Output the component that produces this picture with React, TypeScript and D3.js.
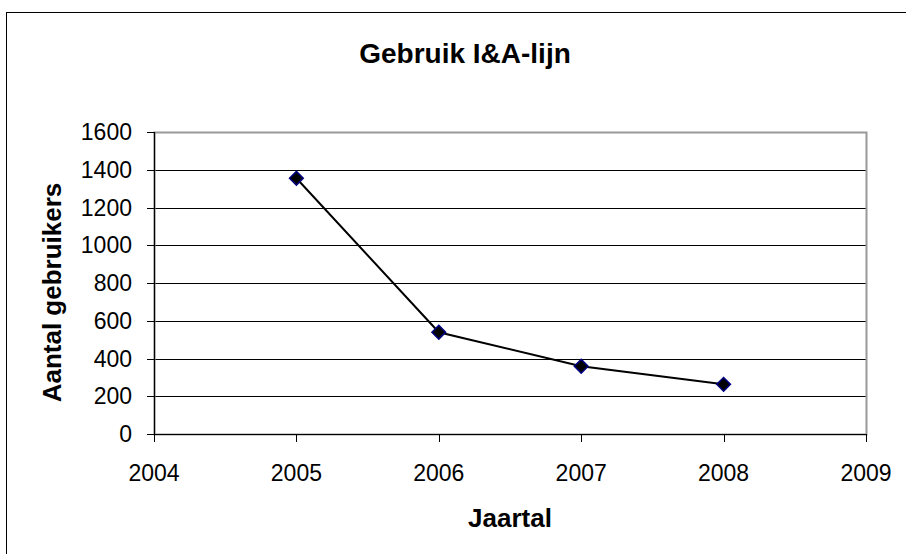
import React from "react";
import * as d3 from "d3";

const years = [2005, 2006, 2007, 2008];
const users = [1355, 539, 359, 263];
const yTicks = [0, 200, 400, 600, 800, 1000, 1200, 1400, 1600];
const xTicks = [2004, 2005, 2006, 2007, 2008, 2009];

const W = 906;
const H = 554;
const plot = { left: 154, right: 866, top: 132, bottom: 434 };
const font = "Arial, 'Liberation Sans', sans-serif";

export default function App() {
  const x = d3.scaleLinear().domain([2004, 2009]).range([plot.left, plot.right]);
  const y = d3.scaleLinear().domain([0, 1600]).range([plot.bottom, plot.top]);
  const pts = years.map((yr, i) => [x(yr), y(users[i])] as [number, number]);
  const line = d3.line()(pts) || "";
  const diamond = d3.symbol().type(d3.symbolDiamond2).size(120)() || "";

  return (
    <svg
      width={W}
      height={H}
      style={{ position: "absolute", left: 0, top: 0, background: "#fff" }}
    >
      <rect x={0} y={0} width={W} height={H} fill="#fff" />
      <rect x={6.5} y={12.5} width={W + 10} height={H + 10} fill="none" stroke="#000" strokeWidth={1} />
      <text x={465} y={63} textAnchor="middle" fontFamily={font} fontWeight="bold" fontSize={28}>
        Gebruik I&amp;A-lijn
      </text>
      {yTicks.filter((t) => t > 0 && t < 1600).map((t) => (
        <line key={t} x1={plot.left} x2={plot.right} y1={Math.round(y(t)) + 0.5} y2={Math.round(y(t)) + 0.5} stroke="#000" strokeWidth={1} />
      ))}
      <rect x={plot.left + 0.5} y={plot.top + 0.5} width={plot.right - plot.left} height={plot.bottom - plot.top} fill="none" stroke="#999" strokeWidth={2} />
      <line x1={plot.left + 0.5} x2={plot.left + 0.5} y1={plot.top} y2={plot.bottom + 1} stroke="#000" strokeWidth={1.2} />
      <line x1={plot.left} x2={plot.right} y1={plot.bottom + 0.5} y2={plot.bottom + 0.5} stroke="#000" strokeWidth={1.2} />
      {yTicks.map((t) => (
        <g key={t}>
          <line x1={plot.left - 7} x2={plot.left} y1={Math.round(y(t)) + 0.5} y2={Math.round(y(t)) + 0.5} stroke="#000" />
          <text x={132} y={y(t) + 8} textAnchor="end" fontFamily={font} fontSize={23}>
            {t}
          </text>
        </g>
      ))}
      {xTicks.map((t) => (
        <g key={t}>
          <line x1={Math.round(x(t)) + 0.5} x2={Math.round(x(t)) + 0.5} y1={plot.bottom} y2={plot.bottom + 8} stroke="#000" />
          <text x={x(t)} y={480.5} textAnchor="middle" fontFamily={font} fontSize={23}>
            {t}
          </text>
        </g>
      ))}
      <text x={510} y={527} textAnchor="middle" fontFamily={font} fontWeight="bold" fontSize={26}>
        Jaartal
      </text>
      <text
        transform={`translate(61,292.5) rotate(-90)`}
        textAnchor="middle"
        fontFamily={font}
        fontWeight="bold"
        fontSize={26}
      >
        Aantal gebruikers
      </text>
      <path d={line} fill="none" stroke="#000" strokeWidth={2} />
      {pts.map(([px, py], i) => (
        <path key={i} d={diamond} transform={`translate(${px},${py})`} fill="#000" stroke="#000080" strokeWidth={1.5} />
      ))}
    </svg>
  );
}
